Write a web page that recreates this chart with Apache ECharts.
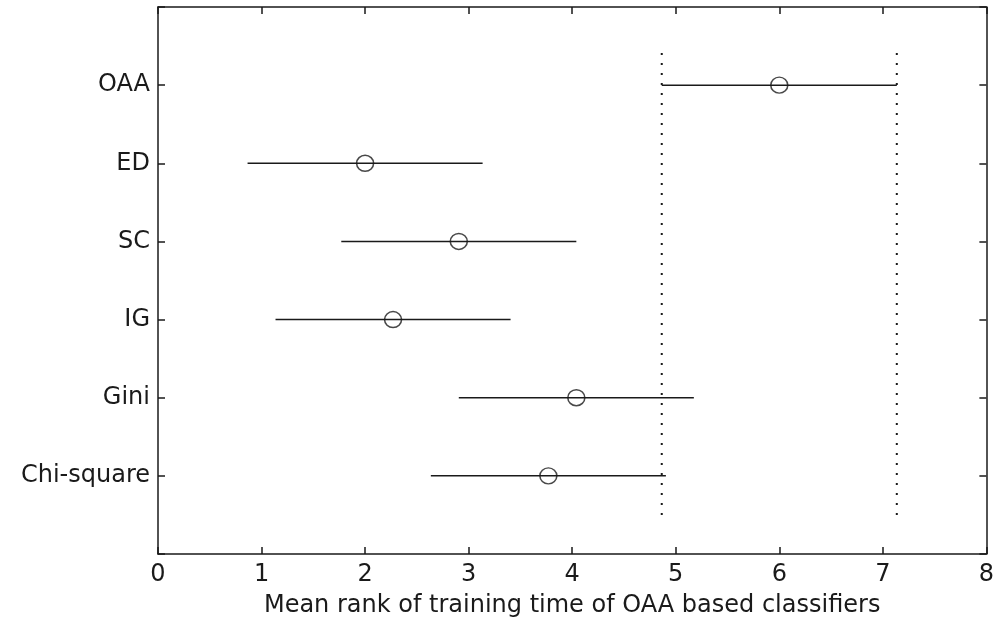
<!DOCTYPE html>
<html>
<head>
<meta charset="utf-8">
<script src="https://cdn.jsdelivr.net/npm/echarts@6/dist/echarts.min.js"></script>
<style>html,body{margin:0;padding:0;background:#fff}#c{width:997px;height:623px}</style>
</head>
<body>
<div id="c"></div>
<script>
// Categories from bottom (y=1) to top (y=6)
var methods = ['Chi-square', 'Gini', 'IG', 'SC', 'ED', 'OAA'];
var meanRanks = [3.77, 4.04, 2.27, 2.905, 2.0, 6.0];
var criticalHalfWidth = 1.135;
var xTicks = [0, 1, 2, 3, 4, 5, 6, 7, 8];
var refIndex = 5; // OAA

var chart = echarts.init(document.getElementById('c'));
var font = '"DejaVu Sans", sans-serif';
var ink = '#1a1a1a';

var points = meanRanks.map(function (m, i) { return [m, i + 1]; });
var bars = meanRanks.map(function (m, i) { return [m - criticalHalfWidth, m + criticalHalfWidth, i + 1]; });
var refLo = meanRanks[refIndex] - criticalHalfWidth;
var refHi = meanRanks[refIndex] + criticalHalfWidth;

chart.setOption({
  animation: false,
  backgroundColor: '#fff',
  grid: { left: 158, right: 9, top: 7, bottom: 69, show: false },
  xAxis: [{
    type: 'value', min: xTicks[0], max: xTicks[xTicks.length - 1], interval: 1,
    position: 'bottom',
    name: 'Mean rank of training time of OAA based classifiers',
    nameLocation: 'middle', nameGap: 40,
    nameTextStyle: { fontFamily: font, fontSize: 24, color: ink },
    axisLine: { show: true, onZero: false, lineStyle: { color: ink, width: 1.5 } },
    axisTick: { show: true, inside: true, length: 7, lineStyle: { color: ink, width: 1.5 } },
    axisLabel: { fontFamily: font, fontSize: 24, color: ink, margin: 9 },
    splitLine: { show: false }
  }, {
    type: 'value', min: xTicks[0], max: xTicks[xTicks.length - 1], interval: 1,
    position: 'top',
    axisLine: { show: true, onZero: false, lineStyle: { color: ink, width: 1.5 } },
    axisTick: { show: true, inside: true, length: 7, lineStyle: { color: ink, width: 1.5 } },
    axisLabel: { show: false },
    splitLine: { show: false }
  }],
  yAxis: [{
    type: 'value', min: 0, max: methods.length + 1, interval: 1,
    position: 'left',
    axisLine: { show: true, onZero: false, lineStyle: { color: ink, width: 1.5 } },
    axisTick: { show: true, inside: true, length: 7, lineStyle: { color: ink, width: 1.5 } },
    axisLabel: {
      fontFamily: font, fontSize: 24, color: ink, margin: 8,
      formatter: function (v) { return (v >= 1 && v <= methods.length) ? methods[v - 1] : ''; }
    },
    splitLine: { show: false }
  }, {
    type: 'value', min: 0, max: methods.length + 1, interval: 1,
    position: 'right',
    axisLine: { show: true, onZero: false, lineStyle: { color: ink, width: 1.5 } },
    axisTick: { show: true, inside: true, length: 7, lineStyle: { color: ink, width: 1.5 } },
    axisLabel: { show: false },
    splitLine: { show: false }
  }],
  series: [
    {
      type: 'custom',
      data: bars,
      renderItem: function (params, api) {
        var a = api.coord([api.value(0), api.value(2)]);
        var b = api.coord([api.value(1), api.value(2)]);
        return { type: 'line', shape: { x1: a[0], y1: a[1], x2: b[0], y2: b[1] },
                 style: { stroke: ink, lineWidth: 1.5 } };
      },
      z: 2
    },
    {
      type: 'line', data: [[refLo, 0.5], [refLo, methods.length + 0.5]],
      symbol: 'none', lineStyle: { color: ink, width: 2, type: [2, 8] }, z: 1
    },
    {
      type: 'line', data: [[refHi, 0.5], [refHi, methods.length + 0.5]],
      symbol: 'none', lineStyle: { color: ink, width: 2, type: [2, 8] }, z: 1
    },
    {
      type: 'scatter', data: points, symbol: 'circle', symbolSize: [17, 16],
      itemStyle: { color: 'rgba(255,255,255,0)', borderColor: ink, borderWidth: 1.5 },
      z: 3
    }
  ]
});
</script>
</body>
</html>
